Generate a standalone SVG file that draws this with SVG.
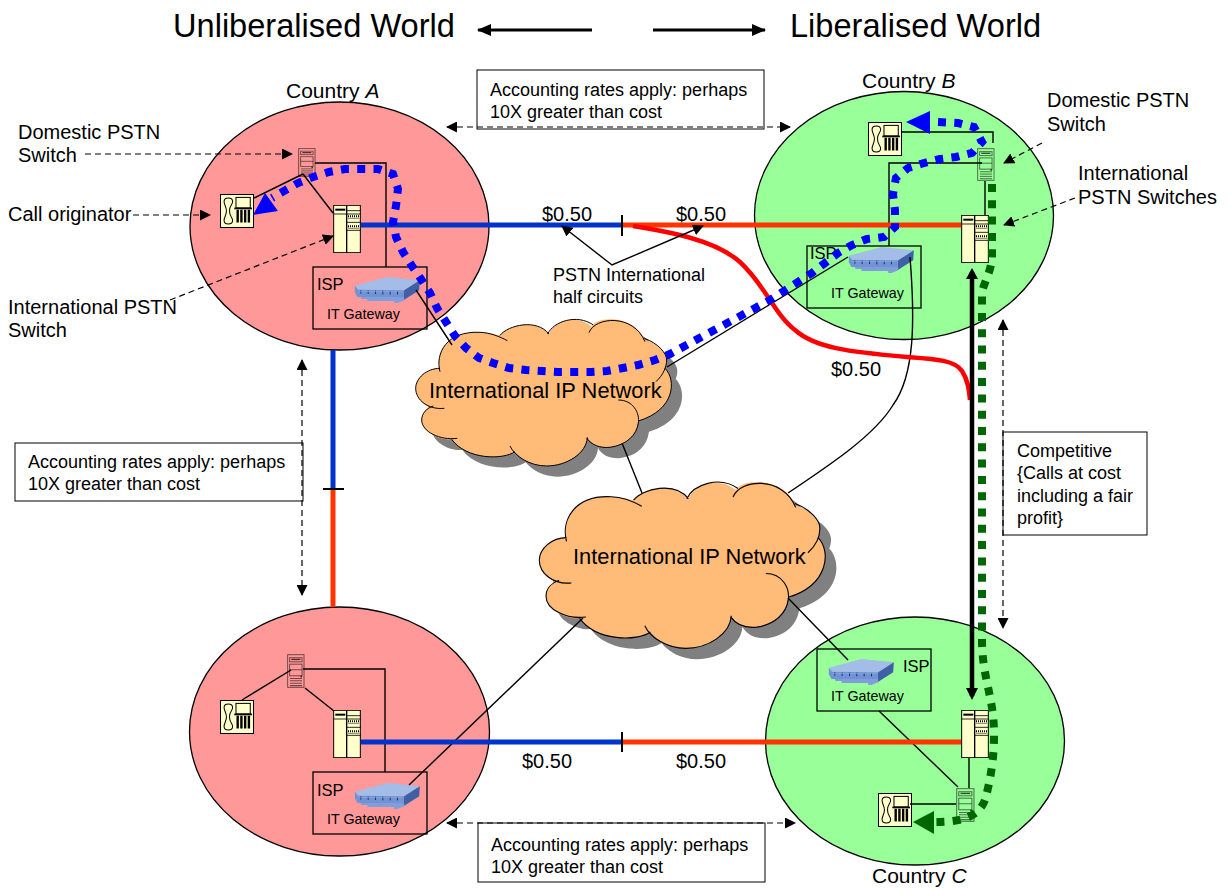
<svg xmlns="http://www.w3.org/2000/svg" width="1230" height="888" viewBox="0 0 1230 888">
<style>
text{font-family:"Liberation Sans",Arial,sans-serif;fill:#000}
.t{font-size:20px}
.n{font-size:21px}
.s{font-size:18px}
.h{font-size:32.6px}
.c{font-size:21.85px}
.g{font-size:14.3px}
.i{font-size:18px}
.p{font-size:16.5px}
.pink{fill:#ff9999;stroke:#000;stroke-width:1.3}
.green{fill:#99ff99;stroke:#000;stroke-width:1.3}
.box{fill:none;stroke:#000;stroke-width:1.3}
.note{fill:#fff;stroke:#000;stroke-width:1}
.thin{fill:none;stroke:#000;stroke-width:1.4}
.dash{fill:none;stroke:#000;stroke-width:1.2;stroke-dasharray:6 4}
.blue{fill:none;stroke:#0033cc;stroke-width:5}
.orange{fill:none;stroke:#ff3300;stroke-width:5}
.red{fill:none;stroke:#ff0000;stroke-width:4.5}
.dotb{fill:none;stroke:#0000ff;stroke-width:8;stroke-dasharray:8 8.3}
.dotg{fill:none;stroke:#006600;stroke-width:8;stroke-dasharray:8 8.3}
</style>
<defs>
<marker id="ah" markerWidth="11" markerHeight="11" refX="10" refY="5.500" orient="auto-start-reverse" markerUnits="userSpaceOnUse"><path d="M0 0L11 5.500L0 11Z" fill="#000"/></marker>
<marker id="ahb" markerWidth="14" markerHeight="12" refX="13" refY="6" orient="auto-start-reverse" markerUnits="userSpaceOnUse"><path d="M0 0L14 6L0 12Z" fill="#000"/></marker>
<path id="cf" d="M120,185C105,130 140,62 240,67C270,68 290,75 300,76C325,45 410,25 447,72C460,35 530,10 575,50C585,20 700,10 735,90C775,100 800,130 800,150C800,160 798,168 795,175C830,210 825,300 715,333C710,375 680,405 630,412C600,415 575,405 562,382C560,430 500,468 440,468C400,468 365,450 345,425C310,450 200,450 155,388C120,392 65,365 65,330C65,312 75,298 90,290C65,285 47,260 47,235C47,205 80,175 120,175Z"/>
<path id="cs" d="M120,185C105,130 140,62 240,67C270,68 300,80 322,92M300,76C325,45 410,25 447,72M443,72C460,35 530,10 580,45M567,68C585,20 700,10 735,95M733,85C775,100 800,130 800,150C800,170 790,195 768,215M795,175C830,210 825,300 715,333M655,270C700,270 720,310 715,340C710,375 680,405 630,412C600,415 575,405 560,385M562,382C560,430 500,468 440,468C390,468 345,440 330,408M345,425C310,450 200,450 155,388M172,385C120,392 65,365 65,330C65,310 80,295 100,288M133,295C85,300 47,270 47,235C47,205 80,175 120,175" fill="none" stroke="#000" stroke-width="3"/>
<symbol id="phone" viewBox="0 0 100 100">
<rect x="1.500" y="1.500" width="97" height="97" fill="#ffffcc" stroke="#000" stroke-width="3"/>
<path d="M12 22C12 8 37 8 37 22C37 32 28 32 28 50C28 68 37 68 37 78C37 92 12 92 12 78C12 68 19 62 19 50C19 38 12 32 12 22Z" fill="#ffffcc" stroke="#000" stroke-width="3"/>
<rect x="47" y="10" width="42" height="31" fill="#ffffcc" stroke="#000" stroke-width="3"/>
<rect x="42" y="40" width="52" height="5" fill="#000"/>
<path d="M52 46V84M63 46V84M74 46V84M85 46V84" stroke="#000" stroke-width="7"/>
</symbol>
<symbol id="switch" viewBox="0 0 82 144">
<rect x="1" y="1" width="80" height="142" fill="#ffffcc" stroke="#000" stroke-width="3"/>
<path d="M40 0V144" stroke="#000" stroke-width="4"/>
<rect x="6" y="11" width="30" height="6" fill="#000"/>
<path d="M2 27H40M40 17H82M40 27H82M40 52H82M40 76H82" stroke="#000" stroke-width="2.500"/>
<path d="M44 34H78M44 64H78" stroke="#000" stroke-width="6" stroke-dasharray="3 3"/>
<path d="M44 40H78M44 70H78" stroke="#000" stroke-width="1.500"/>
</symbol>
<symbol id="server" viewBox="0 0 55 100" preserveAspectRatio="none">
<g fill="none" stroke="#000" stroke-opacity=".55" stroke-width="3">
<rect x="2" y="2" width="50" height="96"/>
<rect x="8" y="11" width="38" height="12"/>
<rect x="8" y="30" width="38" height="34"/>
<path d="M8 46H46M9 72H46M9 79H46M9 86H46M9 93H46"/>
</g>
<rect x="13" y="14" width="28" height="4" fill="#000" fill-opacity=".7"/>
<rect x="41" y="64" width="5" height="5" fill="#000" fill-opacity=".7"/>
</symbol>
<symbol id="router" viewBox="0 0 197 78">
<path d="M2 26L100 0L197 10L150 40L12 38Z" fill="#a3bde8"/>
<path d="M2 26L12 38L150 40L148 66L10 60L2 46Z" fill="#6f93d6"/>
<path d="M150 40L197 10L195 40L148 70Z" fill="#3f5fa6"/>
<path d="M20 60H150V70L130 78H120V72H40V66H22Z" fill="#7f9edb"/>
<path d="M20 40V50M42 41V51M64 41V51M86 41V52M108 42V52M130 42V52" stroke="#1f2f55" stroke-width="3"/>
<path d="M12 44H146" stroke="#90a9df" stroke-width="2"/>
</symbol>
</defs>

<g id="title">
<text class="h" x="173" y="37">Unliberalised World</text>
<text class="h" x="790" y="37">Liberalised World</text>
</g>

<g id="country-a"><ellipse class="pink" cx="339.500" cy="226" rx="149.500" ry="124"/><text class="n" x="286" y="98">Country <tspan font-style="italic">A</tspan></text></g>
<g id="country-b"><ellipse class="green" cx="904" cy="215.500" rx="149.500" ry="124"/><text class="n" x="862" y="88">Country <tspan font-style="italic">B</tspan></text></g>
<g id="country-c"><ellipse class="green" cx="915" cy="741" rx="149.500" ry="124"/><text class="n" x="872" y="883">Country <tspan font-style="italic">C</tspan></text></g>
<g id="country-d"><ellipse class="pink" cx="339.500" cy="731.500" rx="150" ry="124.500"/></g>

<g id="cloud-1">
<g transform="translate(400,310) scale(.3333)"><use href="#cf" x="32" y="32" fill="#808080"/><use href="#cf" fill="#ffbb77"/><use href="#cs"/></g>
<text class="c" x="429" y="398">International IP Network</text>
</g>
<g id="cloud-2">
<g transform="translate(400,310) scale(.3333) translate(418,515) scale(1.118,1.134) translate(-47,-27)"><use href="#cf" x="30" y="29" fill="#808080"/><use href="#cf" fill="#ffbb77"/><use href="#cs"/></g>
<text class="c" x="573" y="564">International IP Network</text>
</g>

<g id="a-devices">
<use href="#phone" x="220" y="194" width="34" height="34"/>
<use href="#switch" x="333" y="205" width="28" height="48"/>
<use href="#server" x="298" y="148" width="18" height="29"/>
<rect class="box" x="313" y="267" width="114" height="62"/>
<use href="#router" x="354" y="277" width="66" height="26"/>
<text class="p" x="317" y="290">ISP</text><text class="g" x="327" y="319">IT Gateway</text>
</g>
<g id="b-devices">
<use href="#phone" x="868" y="122" width="34" height="34"/>
<use href="#switch" x="961" y="215" width="28" height="48"/>
<use href="#server" x="977" y="148" width="18" height="33"/>
<rect class="box" x="807" y="246" width="114" height="62"/>
<use href="#router" x="848" y="247" width="66" height="26"/>
<text class="p" x="810" y="259">ISP</text><text class="g" x="831" y="298">IT Gateway</text>
</g>
<g id="c-devices">
<use href="#phone" x="878" y="793" width="34" height="34"/>
<use href="#switch" x="961" y="710" width="28" height="48"/>
<use href="#server" x="956" y="788" width="19" height="34"/>
<rect class="box" x="817" y="649" width="114" height="62"/>
<use href="#router" x="828" y="659" width="66" height="26"/>
<text class="p" x="903" y="672">ISP</text><text class="g" x="831" y="701">IT Gateway</text>
</g>
<g id="d-devices">
<use href="#phone" x="220" y="700" width="34" height="34"/>
<use href="#switch" x="333" y="710" width="28" height="48"/>
<use href="#server" x="287" y="654" width="18" height="34"/>
<rect class="box" x="313" y="772" width="114" height="62"/>
<use href="#router" x="354" y="783" width="66" height="26"/>
<text class="p" x="317" y="796">ISP</text><text class="g" x="327" y="824">IT Gateway</text>
</g>

<g id="note-top"><rect class="note" x="477" y="70" width="287" height="59"/><text class="i" x="490" y="96">Accounting rates apply: perhaps</text><text class="i" x="490" y="118">10X greater than cost</text></g>
<g id="note-left"><rect class="note" x="15" y="443" width="288" height="58"/><text class="i" x="28" y="468">Accounting rates apply: perhaps</text><text class="i" x="28" y="490">10X greater than cost</text></g>
<g id="note-bottom"><rect class="note" x="478" y="823" width="287" height="59"/><text class="i" x="491" y="851">Accounting rates apply: perhaps</text><text class="i" x="491" y="873">10X greater than cost</text></g>
<g id="note-right"><rect class="note" x="1003" y="432" width="144" height="103"/><text class="i" x="1017" y="457">Competitive</text><text class="i" x="1017" y="479">{Calls at cost</text><text class="i" x="1017" y="502">including a fair</text><text class="i" x="1017" y="524">profit}</text></g>

<g id="labels">
<text class="t" x="18" y="139">Domestic PSTN</text><text class="t" x="18" y="162">Switch</text>
<text class="t" x="8" y="221">Call originator</text>
<text class="t" x="8" y="314">International PSTN</text><text class="t" x="8" y="337">Switch</text>
<text class="t" x="1047" y="107">Domestic PSTN</text><text class="t" x="1047" y="131">Switch</text>
<text class="t" x="1078" y="180">International</text><text class="t" x="1078" y="204">PSTN Switches</text>
<text class="s" x="553" y="281">PSTN International</text><text class="s" x="553" y="303">half circuits</text>
<text class="t" x="542" y="221">$0.50</text><text class="t" x="676" y="221">$0.50</text><text class="t" x="831" y="376">$0.50</text>
<text class="t" x="522" y="768">$0.50</text><text class="t" x="676" y="768">$0.50</text>
</g>

<g id="connectors">
<path d="M478 30H592" stroke="#000" stroke-width="3" marker-start="url(#ahb)"/>
<path d="M653 30H765" stroke="#000" stroke-width="3" marker-end="url(#ahb)"/>
<path class="thin" d="M303 174L254 198M303 174L333 213M315 163H386V267"/>
<path class="thin" d="M416 290L452 345M622 443L642 493"/>
<path class="thin" d="M667 367L848 257"/>
<path class="thin" d="M910 257C915 320 915 375 893 405C875 435 830 465 788 493"/>
<path class="thin" d="M788 598L848 660"/>
<path class="thin" d="M583 618L409 785"/>
<path class="thin" d="M901 132H993V143M982 163H889V246M985 181V215"/>
<path class="thin" d="M879 711L958 787M969 758V788M910 804H956"/>
<path class="thin" d="M291 670L242 700M305 688L334 711M303 669H385V772"/>
<path class="blue" d="M361 225H622"/><path class="orange" d="M622 225H961"/>
<path class="blue" d="M361 742H622"/><path class="orange" d="M622 742H961"/>
<path class="blue" d="M333 350V489"/><path class="orange" d="M333 489V607"/>
<path d="M622 215V236M622 732V752M323 489H344" stroke="#000" stroke-width="2"/>
<path class="red" d="M633 226C670 232 715 240 740 262C765 285 775 315 795 330C815 348 850 352 907 357C935 359 955 360 962 371C968 380 969 390 970 400"/>
<path d="M972 272V696" stroke="#000" stroke-width="4.500" fill="none"/>
<path d="M972 268L966 279H978ZM972 700L966 688H978Z" fill="#000"/>
<path class="dash" d="M85 154H292" marker-end="url(#ah)"/>
<path class="dash" d="M133 215H210" marker-end="url(#ah)"/>
<path class="dash" d="M170 300L333 236" marker-end="url(#ah)"/>
<path class="dash" d="M1042 143L1004 163" marker-end="url(#ah)"/>
<path class="dash" d="M1075 198L1004 225" marker-end="url(#ah)"/>
<path class="dash" d="M447 127H790" marker-start="url(#ah)" marker-end="url(#ah)"/>
<path class="dash" d="M302 360V595" marker-start="url(#ah)" marker-end="url(#ah)"/>
<path class="dash" d="M1003 320V628" marker-start="url(#ah)" marker-end="url(#ah)"/>
<path class="dash" d="M447 823H795" marker-start="url(#ah)" marker-end="url(#ah)"/>
<path class="thin" d="M562 226L612 265L703 226" marker-start="url(#ah)" marker-end="url(#ah)"/>
<path class="dotb" d="M938 122L958 123L974 127L982 142L972 153L956 157L940 159L924 163L908 168L896 178L893 194L895 210L895 227L884 237L867 239L852 245L838 253L825 263L812 273L770 300L670 354L655 360L638 365L623 368L607 371L591 372L575 372L558 372L542 371L526 370L509 368L493 363L479 358L466 348L455 336L446 322L437 308L430 293L421 279L412 266L403 252L396 237L393 222L396 206L398 189L393 174L378 169L361 169L345 169L329 172L313 177L298 183L284 191L272 198"/>
<path d="M906 122L930 111V134ZM253 215L265 193L278 211Z" fill="#0000ff"/>
<path class="dotg" d="M992 184V255C992 270 985 280 982 292V640C982 670 990 690 993 715C996 745 992 775 985 800C978 818 960 822 934 822"/>
<path d="M913 822L934 811V834Z" fill="#006600"/>
</g>
</svg>
